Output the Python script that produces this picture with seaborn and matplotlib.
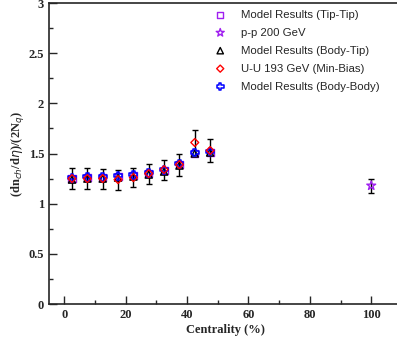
import numpy as np
import pandas as pd
import seaborn as sns
import matplotlib.pyplot as plt

# centrality bins (%)
centrality = [2.5, 7.5, 12.5, 17.5, 22.5, 27.5, 32.5, 37.5, 42.5, 47.5]

# model results
tip_tip = [1.25, 1.26, 1.26, 1.27, 1.28, 1.30, 1.33, 1.39, 1.50, 1.51]
body_tip = [1.24, 1.25, 1.25, 1.26, 1.27, 1.29, 1.32, 1.38, 1.50, 1.51]
body_body = [1.26, 1.27, 1.27, 1.28, 1.29, 1.31, 1.34, 1.40, 1.51, 1.52]

# U-U 193 GeV data
uu_val = [1.25, 1.25, 1.25, 1.24, 1.26, 1.30, 1.34, 1.39, 1.61, 1.53]
uu_err = [0.105, 0.105, 0.10, 0.10, 0.095, 0.10, 0.10, 0.11, 0.12, 0.115]

# p-p 200 GeV
pp_x = [100]
pp_val = [1.18]
pp_err = [0.07]

sns.set_style("ticks")
plt.rcParams['font.family'] = ['Liberation Serif', 'DejaVu Serif']

fig = plt.figure(figsize=(3.97, 3.41), dpi=100)
ax = fig.add_axes([0.1234, 0.1085, 0.889, 0.8825])

mk = dict(s=26, linewidth=1.0, zorder=3)
sns.scatterplot(x=centrality, y=tip_tip, marker='s', facecolors='none',
                edgecolor='#a020f0', label='Model Results (Tip-Tip)', ax=ax, **mk)
sns.scatterplot(x=pp_x, y=pp_val, marker='*', facecolors='none',
                edgecolor='#a020f0', label='p-p 200 GeV', ax=ax, s=45, linewidth=1.0, zorder=3)
sns.scatterplot(x=centrality, y=body_tip, marker='^', facecolors='none',
                edgecolor='black', label='Model Results (Body-Tip)', ax=ax, **mk)
sns.scatterplot(x=centrality, y=uu_val, marker='D', facecolors='none',
                edgecolor='red', label='U-U 193 GeV (Min-Bias)', ax=ax, s=16, linewidth=1.0, zorder=4)
sns.scatterplot(x=centrality, y=body_body, marker='P', facecolors='none',
                edgecolor='blue', label='Model Results (Body-Body)', ax=ax, s=32, linewidth=1.1, zorder=3)

ax.errorbar(centrality, uu_val, yerr=uu_err, fmt='none', ecolor='black',
            elinewidth=1.0, capsize=2, zorder=2)
ax.errorbar(pp_x, pp_val, yerr=pp_err, fmt='none', ecolor='black',
            elinewidth=1.0, capsize=2, zorder=2)

ax.set_xlim(-5, 110)
ax.set_ylim(0, 3)
ax.set_xticks([0, 20, 40, 60, 80, 100])
ax.set_xticks([10, 30, 50, 70, 90], minor=True)
ax.set_yticks([0, 0.5, 1, 1.5, 2, 2.5, 3])
ax.set_yticks([0.25, 0.75, 1.25, 1.75, 2.25, 2.75], minor=True)
ax.set_yticklabels(['0', '0.5', '1', '1.5', '2', '2.5', '3'])
ax.tick_params(which='both', direction='in', width=1.0)
ax.tick_params(which='major', length=6, labelsize=9)
ax.tick_params(which='minor', length=3)
for lab in ax.get_xticklabels() + ax.get_yticklabels():
    lab.set_fontweight('bold')
for sp in ax.spines.values():
    sp.set_linewidth(1.2)
    sp.set_visible(True)

ax.set_xlabel('Centrality (%)', fontsize=9, fontweight='bold', labelpad=2)
ax.set_ylabel(r'(dn$_{ch}$/d$\eta$)/(2N$_q$)', fontsize=9, fontweight='bold', labelpad=2)

leg = ax.legend(loc='upper left', bbox_to_anchor=(0.44, 1.012), frameon=False,
                prop={'family': 'Liberation Sans', 'size': 8.2},
                handletextpad=1.3, labelspacing=0.7, handlelength=1.0,
                markerscale=0.9)

fig.savefig('out.png', dpi=100)
